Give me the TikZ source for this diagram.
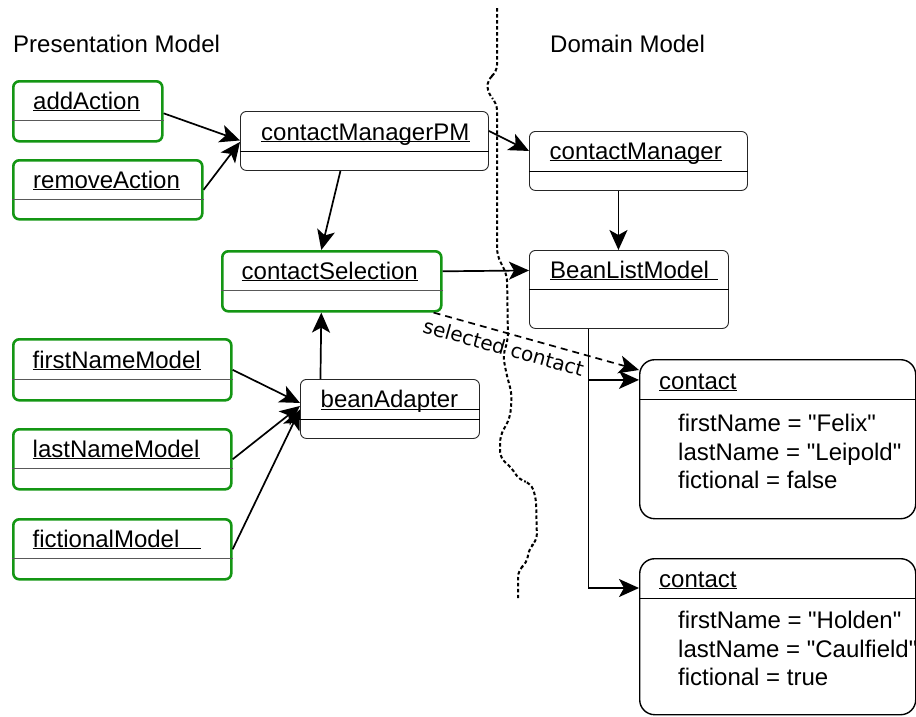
\documentclass[tikz,border=0pt]{standalone}
\usepackage{fontspec}
\setmainfont{Liberation Sans}
\newfontfamily\dejavu{DejaVu Sans}
\usetikzlibrary{arrows.meta,calc}
\definecolor{pmgreen}{RGB}{20,150,20}
\newcommand\bigtxt{\fontsize{24}{29}\selectfont}
\newcommand\qq{\textquotedbl}
\tikzset{
  objbox/.style={rectangle, rounded corners=6pt, inner sep=0pt, anchor=north west},
  gbox/.style={objbox, draw=pmgreen, line width=2.6pt},
  kbox/.style={objbox, draw=black!85, line width=0.9pt},
  ibox/.style={objbox, draw=black, line width=1.4pt, rounded corners=15pt},
  gdiv/.style={draw=black!65, line width=1pt},
  kdiv/.style={draw=black, line width=0.9pt},
  ttl/.style={anchor=base west, inner sep=0pt, font=\bigtxt},
  uline/.style={draw=black, line width=1pt},
  arr/.style={draw=black, line width=1.7pt, -{Stealth[length=20pt,width=18pt,inset=5pt]}},
  darr/.style={arr, dash pattern=on 7pt off 5pt},
  border/.style={draw=black, line width=2pt, dash pattern=on 3.5pt off 2.5pt, rounded corners=7pt}
}
\begin{document}
\begin{tikzpicture}[x=1pt,y=-1pt]
\useasboundingbox (0,0) rectangle (916,716);

% column headings
\node[ttl] (hpm) at (13,52) {Presentation Model};
\node[ttl] (hdm) at (550,52) {Domain Model};

% boundary between the two models
\draw[border] (497,8) -- (497,72) -- (487,80) -- (488,94) -- (497,103) -- (497,255)
  -- (507,275) -- (508,340) -- (503,355) -- (506,372) -- (512,395) -- (510,418)
  -- (500,436) -- (500,458) -- (512,468) -- (519,480) -- (531,483) -- (536,498)
  -- (537,541) -- (529,548) -- (527,563) -- (518,570) -- (518,598);

% presentation model objects
\node[gbox, minimum width=149pt, minimum height=60pt] (addA) at (12,80) {};
\node[gbox, minimum width=189pt, minimum height=59pt] (remA) at (12,159) {};
\node[kbox, minimum width=248pt, minimum height=59pt] (cmPM) at (240,111) {};
\node[gbox, minimum width=219pt, minimum height=60pt] (cSel) at (221,250) {};
\node[gbox, minimum width=218pt, minimum height=61pt] (fnm) at (12,338) {};
\node[gbox, minimum width=218pt, minimum height=60pt] (lnm) at (12,428) {};
\node[gbox, minimum width=218pt, minimum height=60pt] (fcm) at (12,518) {};
\node[kbox, minimum width=179pt, minimum height=59pt] (bA) at (300,379) {};

% domain model objects
\node[kbox, minimum width=218pt, minimum height=59pt] (cm) at (529,131) {};
\node[kbox, minimum width=199pt, minimum height=78pt] (blm) at (529,250) {};
\node[ibox, minimum width=276pt, minimum height=159pt] (c1) at (639,359) {};
\node[ibox, minimum width=276pt, minimum height=156pt] (c2) at (639,558) {};

% compartment dividers
\foreach \b/\d in {addA/40.5, remA/40, cSel/40, fnm/41, lnm/40, fcm/40}
  \draw[gdiv] ($(\b.north west)+(0,\d)$) -- ($(\b.north east)+(0,\d)$);
\foreach \b/\d in {cmPM/40, bA/40, cm/40, blm/39}
  \draw[kdiv] ($(\b.north west)+(0,\d)$) -- ($(\b.north east)+(0,\d)$);
\foreach \b in {c1, c2}
  \draw[kdiv] ($(\b.north west)+(0,40)$) -- ($(\b.north east)+(0,40)$);

% object names
\node[ttl] (addAt) at (33,109) {addAction};
\node[ttl] (remAt) at (33,188) {removeAction};
\node[ttl] (cmPMt) at (261,140) {contactManagerPM};
\node[ttl] (cSelt) at (241.5,279) {contactSelection};
\node[ttl] (fnmt) at (32.5,368) {firstNameModel};
\node[ttl] (lnmt) at (32.5,457) {lastNameModel};
\node[ttl] (fcmt) at (32.5,547) {fictionalModel};
\node[ttl] (bAt) at (320.5,407.5) {beanAdapter};
\node[ttl] (cmt) at (549.5,159) {contactManager};
\node[ttl] (blmt) at (550,278) {BeanListModel};
\node[ttl] (c1t) at (659,389) {contact};
\node[ttl] (c2t) at (659,587) {contact};

\foreach \t in {addAt, remAt, cmPMt, cSelt, fnmt, lnmt, cmt, c1t, c2t}
  \draw[uline] ([yshift=-1.5pt]\t.base west) -- ([yshift=-1.5pt]\t.base east);
\draw[uline] ([yshift=-1.5pt]fcmt.base west) -- ([yshift=-1.5pt]fcmt.base west -| 201,0);
\draw[uline] ([yshift=-1.5pt]bAt.base west) -- ([yshift=-1.5pt]bAt.base west -| bA.east);
\draw[uline] ([yshift=-1.5pt]blmt.base west) -- ([yshift=-1.5pt]blmt.base west -| 718,0);

% attribute values
\node[ttl] (c1a) at (678,431) {firstName = \qq Felix\qq};
\node[ttl] (c1b) at (678,460) {lastName = \qq Leipold\qq};
\node[ttl] (c1c) at (678,488) {fictional = false};
\node[ttl] (c2a) at (678,628) {firstName = \qq Holden\qq};
\node[ttl] (c2b) at (678,657) {lastName = \qq Caulfield\qq};
\node[ttl] (c2c) at (678,685) {fictional = true};

% connectors
\draw[arr] ($(addA.east)+(0,2)$) -- ($(cmPM.west)+(0,-0.5)$);
\draw[arr] (remA.east) -- ($(cmPM.west)+(0,1)$);
\draw[arr] ($(cmPM.east)+(0,-10)$) -- ($(cm.west)+(0,-10)$);
\draw[arr] ($(cmPM.south)+(-24,0)$) -- ($(cSel.north)+(-10.5,0)$);
\draw[arr] ($(cm.south)+(-20,0)$) -- ($(blm.north)+(-10.5,0)$);
\draw[arr] ($(cSel.east)+(0,-10)$) -- ($(blm.west)+(0,-19)$);
\draw[arr] ($(bA.north)+(-69.5,0)$) -- ($(cSel.south)+(-10.5,0)$);
\draw[arr] (fnm.east) -- ($(bA.west)+(0,-6)$);
\draw[arr] (lnm.east) -- ($(bA.west)+(0,-3)$);
\draw[arr] (fcm.east) -- ($(bA.west)+(0,0.5)$);
\coordinate (fork) at ($(blm.south)+(-40.5,51)$);
\draw[arr] ($(blm.south)+(-40.5,0)$) |- ($(c2.north west)+(0,30)$);
\draw[arr] (fork) -- (fork -| c1.west);
\draw[darr] ($(cSel.south east)+(-9,0)$) -- ($(c1.north west)+(0,11)$)
  node[pos=0.36, sloped, anchor=north, inner sep=6pt, font=\dejavu\fontsize{20}{24}\selectfont] {selected contact};
\end{tikzpicture}
\end{document}
